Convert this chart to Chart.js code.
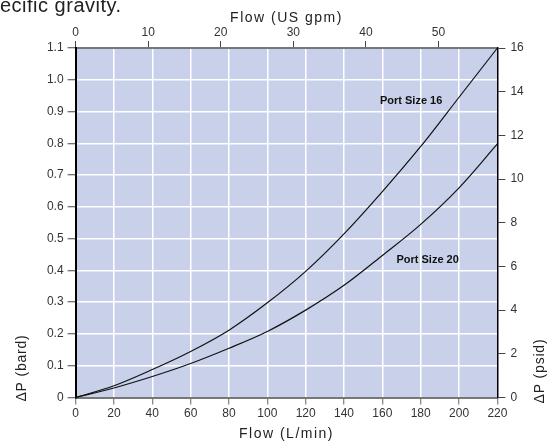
<!DOCTYPE html>
<html>
<head>
<meta charset="utf-8">
<script src="https://cdn.jsdelivr.net/npm/chart.js@4"></script>
<style>
  html, body { margin: 0; padding: 0; background: #fff; }
  #wrap { position: relative; width: 549px; height: 441px; }
</style>
</head>
<body>
<div id="wrap"><canvas id="flowChart" width="549" height="441"></canvas></div>
<script>
// flow in L/min (bottom axis)
var flowLpm = [0, 20, 40, 60, 80, 100, 120, 140, 160, 180, 200, 220];
// pressure drop in bar
var port16 = [0, 0.037, 0.088, 0.145, 0.212, 0.298, 0.397, 0.515, 0.648, 0.790, 0.945, 1.100];
var port20 = [0, 0.030, 0.066, 0.107, 0.155, 0.208, 0.275, 0.353, 0.447, 0.545, 0.660, 0.798];
var seriesNames = ['Port Size 16', 'Port Size 20'];
// where the curve labels sit (L/min, bar)
var labelX = [175, 183.6];
var labelY = [0.933, 0.433];

var LPM_PER_GPM = 3.785;
var PSI_PER_BAR = 14.5038;

var FONT = '"Liberation Sans", Arial, Helvetica, sans-serif';

function pairs(xs, ys) {
  return xs.map(function (x, i) { return { x: x, y: ys[i] }; });
}

// plot background, axis titles and curve labels
var extras = {
  id: 'extras',
  beforeDraw: function (chart) {
    var a = chart.chartArea, ctx = chart.ctx;
    ctx.save();
    ctx.fillStyle = '#c9d1ea';
    ctx.fillRect(a.left, a.top, a.right - a.left, a.bottom - a.top);
    ctx.restore();
  },
  afterDraw: function (chart) {
    var ctx = chart.ctx, a = chart.chartArea;
    var cx = (a.left + a.right) / 2;
    ctx.save();
    ctx.fillStyle = '#222';

    // cut-off caption from the page above
    ctx.font = '20px ' + FONT;
    ctx.letterSpacing = '0.5px';
    ctx.textAlign = 'left';
    ctx.textBaseline = 'alphabetic';
    ctx.fillText('ecific gravity.', 0, 12);

    ctx.font = '14px ' + FONT;
    ctx.letterSpacing = '1.5px';
    ctx.textAlign = 'center';
    ctx.textBaseline = 'middle';
    ctx.fillText('Flow (US gpm)', cx, 18);
    ctx.fillText('Flow (L/min)', cx, 434);

    ctx.letterSpacing = '0.8px';
    ctx.save();
    ctx.translate(22, 368);
    ctx.rotate(-Math.PI / 2);
    ctx.fillText('\u0394P (bard)', 0, 0);
    ctx.restore();

    ctx.save();
    ctx.translate(540, 371);
    ctx.rotate(-Math.PI / 2);
    ctx.fillText('\u0394P (psid)', 0, 0);
    ctx.restore();

    ctx.letterSpacing = '0px';
    ctx.font = 'bold 11px ' + FONT;
    ctx.fillStyle = '#111';
    var xs = chart.scales.x, ys = chart.scales.y;
    for (var i = 0; i < seriesNames.length; i++) {
      ctx.fillText(seriesNames[i], xs.getPixelForValue(labelX[i]), ys.getPixelForValue(labelY[i]));
    }
    ctx.restore();
  }
};

var tickFont = { family: FONT, size: 12 };

var ctx = document.getElementById('flowChart').getContext('2d');
var chart = new Chart(ctx, {
  type: 'line',
  data: {
    datasets: [{
      label: seriesNames[0],
      data: pairs(flowLpm, port16),
      borderColor: '#111',
      borderWidth: 1.2,
      pointRadius: 0,
      cubicInterpolationMode: 'monotone',
      clip: false
    }, {
      label: seriesNames[1],
      data: pairs(flowLpm, port20),
      borderColor: '#111',
      borderWidth: 1.2,
      pointRadius: 0,
      cubicInterpolationMode: 'monotone',
      clip: false
    }]
  },
  options: {
    responsive: false,
    animation: false,
    layout: { padding: 0 },
    plugins: {
      legend: { display: false },
      tooltip: { enabled: false }
    },
    scales: {
      x: {
        type: 'linear',
        position: 'bottom',
        min: 0,
        max: 220,
        ticks: { stepSize: 20, color: '#333', font: tickFont, padding: 2, maxRotation: 0, autoSkip: false },
        grid: { color: '#ffffff', lineWidth: 1.5, tickColor: '#666', tickLength: 7, tickWidth: 1 },
        border: { color: '#777', width: 2 },
        afterFit: function (s) { s.height = 43.5; }
      },
      x2: {
        type: 'linear',
        position: 'top',
        min: 0,
        max: 220 / LPM_PER_GPM,
        ticks: { stepSize: 10, includeBounds: false, autoSkip: false, color: '#333', font: tickFont, padding: 1, maxRotation: 0 },
        grid: { drawOnChartArea: false, tickColor: '#444', tickLength: 7, tickWidth: 1 },
        border: { color: '#777', width: 2 },
        afterFit: function (s) { s.height = 48; }
      },
      y: {
        type: 'linear',
        position: 'left',
        min: 0,
        max: 1.1,
        ticks: {
          stepSize: 0.1,
          autoSkip: false,
          color: '#333',
          font: tickFont,
          padding: 4,
          callback: function (v) { return v === 0 ? '0' : v.toFixed(1); }
        },
        grid: { color: '#ffffff', lineWidth: 1.5, tickColor: '#444', tickLength: 8, tickWidth: 1 },
        border: { color: '#000', width: 2 },
        afterFit: function (s) { s.width = 75.6; }
      },
      y2: {
        type: 'linear',
        position: 'right',
        min: 0,
        max: 16,
        ticks: { stepSize: 2, autoSkip: false, color: '#333', font: tickFont, padding: 5 },
        grid: { drawOnChartArea: false, tickColor: '#444', tickLength: 8, tickWidth: 1 },
        border: { color: '#000', width: 1.5 },
        afterFit: function (s) { s.width = 51.6; }
      }
    }
  },
  plugins: [extras]
});
</script>
</body>
</html>
